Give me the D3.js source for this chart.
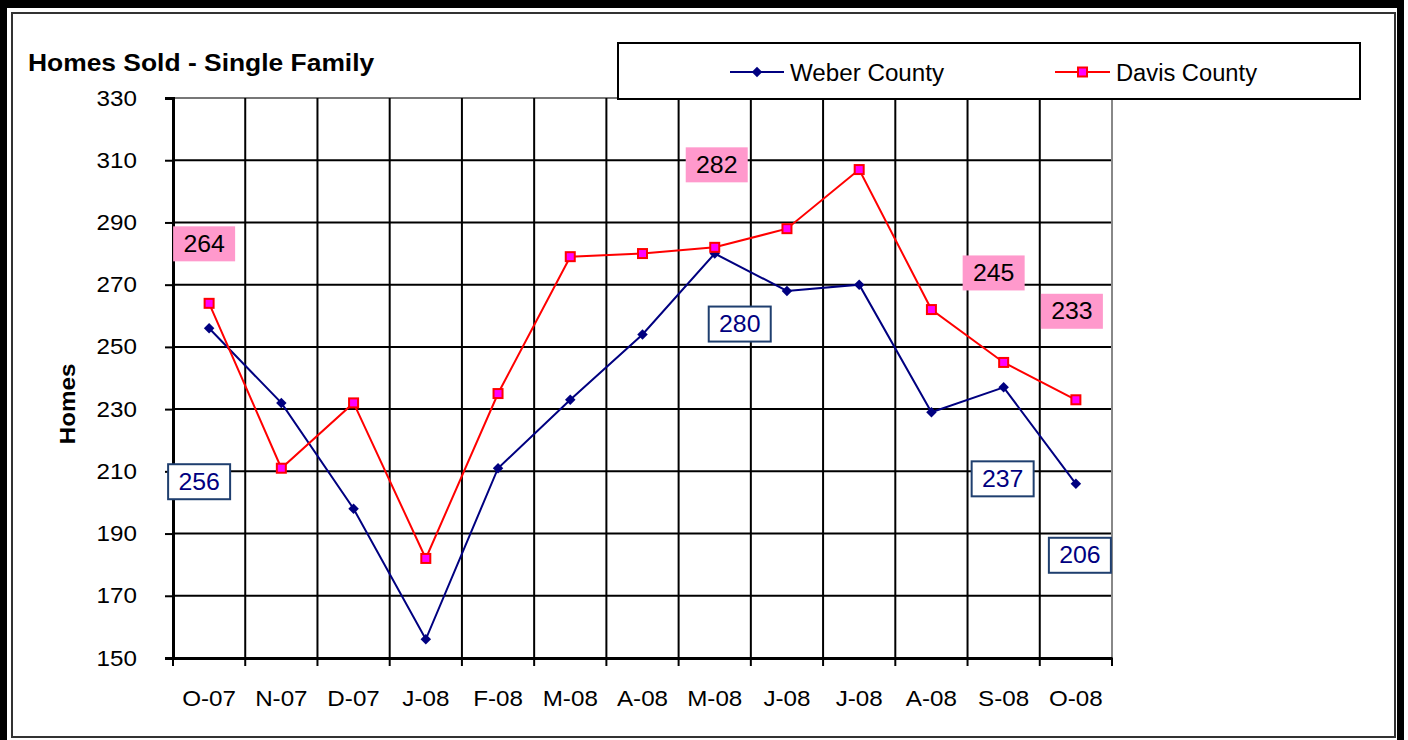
<!DOCTYPE html>
<html>
<head>
<meta charset="utf-8">
<script src="https://d3js.org/d3.v7.min.js"></script>
<style>
  body { margin: 0; background: #fff; }
  text { font-family: "Liberation Sans", Arial, sans-serif; }
</style>
</head>
<body>
<div id="chart"></div>
<script>
// data
var months = ["O-07","N-07","D-07","J-08","F-08","M-08","A-08","M-08 ","J-08 ","J-08  ","A-08 ","S-08","O-08"];
var weber = [256, 232, 198, 156, 211, 233, 254, 280, 268, 270, 229, 237, 206];
var davis = [264, 211, 232, 182, 235, 279, 280, 282, 288, 307, 262, 245, 233];
var yTicks = [150, 170, 190, 210, 230, 250, 270, 290, 310, 330];
// which points get a value label (index into months)
var weberLabelAt = [0, 7, 11, 12];
var davisLabelAt = [0, 7, 11, 12];

var W = 1408, H = 740;
var svg = d3.select("#chart").append("svg")
    .attr("width", W).attr("height", H);

// the original text looks a little wider than Liberation Sans
function widen(sel, f) {
  sel.each(function() {
    var w = this.getComputedTextLength();
    d3.select(this).attr("textLength", w * f).attr("lengthAdjust", "spacingAndGlyphs");
  });
}

// outer frame
svg.append("rect").attr("x", 0).attr("y", 0).attr("width", 7).attr("height", H).attr("fill", "#000");
svg.append("rect").attr("x", 0).attr("y", 0).attr("width", 1404).attr("height", 8).attr("fill", "#000");
svg.append("rect").attr("x", 1397).attr("y", 0).attr("width", 7).attr("height", H).attr("fill", "#000");
svg.append("rect").attr("x", 12).attr("y", 13).attr("width", 1383).attr("height", 724)
    .attr("fill", "none").attr("stroke", "#333").attr("stroke-width", 2);

var x = d3.scaleBand().domain(months).range([173, 1112]);
var y = d3.scaleLinear().domain([150, 330]).range([658, 98]);
var cx = function(i) { return x(months[i]) + x.bandwidth() / 2; };

// horizontal grid
svg.append("g").selectAll("line").data(yTicks.slice(1)).enter().append("line")
    .attr("x1", 173).attr("x2", 1112)
    .attr("y1", function(d) { return y(d); }).attr("y2", function(d) { return y(d); })
    .attr("stroke", function(d) { return d === 330 ? "#777" : "#000"; })
    .attr("stroke-width", 2);

// vertical grid at category boundaries
var bounds = months.map(function(m) { return x(m); }).concat([1112]);
svg.append("g").selectAll("line").data(bounds.slice(1)).enter().append("line")
    .attr("x1", function(d) { return d; }).attr("x2", function(d) { return d; })
    .attr("y1", 98).attr("y2", 658)
    .attr("stroke", function(d, i) { return i === bounds.length - 2 ? "#888" : "#000"; })
    .attr("stroke-width", 2);

// y axis
var yAxis = svg.append("g").attr("transform", "translate(173,0)")
    .call(d3.axisLeft(y).tickValues(yTicks).tickSize(8).tickPadding(28));
yAxis.select(".domain").attr("stroke", "#000").attr("stroke-width", 3);
yAxis.selectAll(".tick line").attr("stroke", "#000").attr("stroke-width", 2);
yAxis.selectAll(".tick text").attr("font-size", 22).attr("fill", "#000")
    .attr("font-family", "Liberation Sans, Arial, sans-serif")
    .call(widen, 1.1);

// x axis
var xAxis = svg.append("g").attr("transform", "translate(0,658)")
    .call(d3.axisBottom(x).tickSize(0).tickPadding(32));
xAxis.select(".domain").attr("stroke", "#000").attr("stroke-width", 3);
xAxis.selectAll(".tick text").attr("font-size", 22).attr("fill", "#000")
    .attr("font-family", "Liberation Sans, Arial, sans-serif")
    .text(function(d) { return d.trim(); })
    .call(widen, 1.1);
svg.append("g").selectAll("line").data(bounds).enter().append("line")
    .attr("x1", function(d) { return d; }).attr("x2", function(d) { return d; })
    .attr("y1", 658).attr("y2", 666)
    .attr("stroke", "#000").attr("stroke-width", 2);

// titles
svg.append("text").attr("x", 28).attr("y", 71)
    .attr("font-size", 24).attr("font-weight", "bold").text("Homes Sold - Single Family")
    .call(widen, 1.1);
svg.append("text").attr("transform", "translate(75,404) rotate(-90)")
    .attr("text-anchor", "middle").attr("font-size", 22).attr("font-weight", "bold").text("Homes")
    .call(widen, 1.1);

// lines
var line = d3.line().x(function(d, i) { return cx(i); }).y(function(d) { return y(d); });
svg.append("path").datum(weber).attr("d", line)
    .attr("fill", "none").attr("stroke", "#000080").attr("stroke-width", 2);
svg.append("path").datum(davis).attr("d", line)
    .attr("fill", "none").attr("stroke", "#ff0000").attr("stroke-width", 2);

// markers
svg.append("g").selectAll("path").data(weber).enter().append("path")
    .attr("d", d3.symbol().type(d3.symbolDiamond2).size(70))
    .attr("transform", function(d, i) { return "translate(" + cx(i) + "," + y(d) + ")"; })
    .attr("fill", "#000080");
svg.append("g").selectAll("rect").data(davis).enter().append("rect")
    .attr("x", function(d, i) { return cx(i) - 4.5; }).attr("y", function(d) { return y(d) - 4.5; })
    .attr("width", 9).attr("height", 9)
    .attr("fill", "#ff00ff").attr("stroke", "#ff0000").attr("stroke-width", 2);

// value labels (offsets from point, px)
var davisOff = [[-5, -60], [2, -83], [-10, -90], [-4, -89]];
var weberOff = [[-10, 153], [25, 70], [-1, 91], [4, 71]];
function drawLabels(series, idx, off, fill, stroke, color) {
  var g = svg.append("g").selectAll("g").data(idx).enter().append("g")
      .attr("transform", function(d, k) {
        return "translate(" + (cx(d) + off[k][0]) + "," + (y(series[d]) + off[k][1]) + ")";
      });
  g.append("rect").attr("x", -31).attr("y", -17).attr("width", 62).attr("height", 35)
      .attr("fill", fill).attr("stroke", stroke).attr("stroke-width", stroke === "none" ? 0 : 2);
  g.append("text").attr("text-anchor", "middle").attr("dy", "0.36em")
      .attr("font-size", 23).attr("fill", color)
      .text(function(d) { return series[d]; })
      .call(widen, 1.08);
}
drawLabels(davis, davisLabelAt, davisOff, "#ff99cc", "none", "#000");
drawLabels(weber, weberLabelAt, weberOff, "#fff", "#1f3f6f", "#000080");

// legend
var lg = svg.append("g");
lg.append("rect").attr("x", 618).attr("y", 43).attr("width", 742).attr("height", 56)
    .attr("fill", "#fff").attr("stroke", "#000").attr("stroke-width", 2);
lg.append("line").attr("x1", 730).attr("x2", 784).attr("y1", 72).attr("y2", 72)
    .attr("stroke", "#000080").attr("stroke-width", 2);
lg.append("path").attr("d", d3.symbol().type(d3.symbolDiamond2).size(70))
    .attr("transform", "translate(757,72)").attr("fill", "#000080");
lg.append("text").attr("x", 790).attr("y", 81).attr("font-size", 23)
    .attr("textLength", 154).attr("lengthAdjust", "spacingAndGlyphs").text("Weber County");
lg.append("line").attr("x1", 1055).attr("x2", 1110).attr("y1", 72).attr("y2", 72)
    .attr("stroke", "#ff0000").attr("stroke-width", 2);
lg.append("rect").attr("x", 1078).attr("y", 67.5).attr("width", 9).attr("height", 9)
    .attr("fill", "#ff00ff").attr("stroke", "#ff0000").attr("stroke-width", 2);
lg.append("text").attr("x", 1116).attr("y", 81).attr("font-size", 23)
    .attr("textLength", 141).attr("lengthAdjust", "spacingAndGlyphs").text("Davis County");
</script>
</body>
</html>
